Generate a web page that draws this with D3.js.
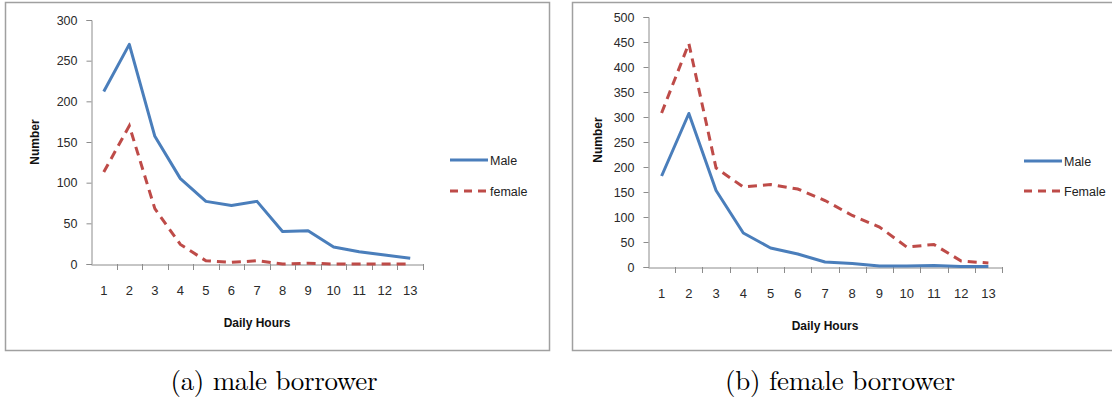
<!DOCTYPE html>
<html>
<head>
<meta charset="utf-8">
<script src="https://cdn.jsdelivr.net/npm/d3@7"></script>
<style>
  body { margin: 0; background: #fff; }
  svg { display: block; }
  .tick text { font-family: "Liberation Sans", Arial, sans-serif; font-size: 12.5px; fill: #2a2a2a; }
  .title { font-family: "Liberation Sans", Arial, sans-serif; font-size: 12px; font-weight: bold; fill: #111; }
  .legend { font-family: "Liberation Sans", Arial, sans-serif; font-size: 12.5px; fill: #222; }
  .caption { font-family: "Latin Modern Roman", "DejaVu Serif", serif; font-size: 27px; fill: #000; }
</style>
</head>
<body>
<svg id="canvas"></svg>
<script>
const width = 1112;
const height = 402;
let canvas = d3.select("#canvas").attr('width', width).attr('height', height);

const hours = ['1', '2', '3', '4', '5', '6', '7', '8', '9', '10', '11', '12', '13'];

// (a) male borrower
const maleA = [212, 270, 157, 105, 77, 72, 77, 40, 41, 21, 15, 11, 7];
const femaleA = [113, 170, 68, 24, 4, 2, 4, 0, 1, 0, 0, 0, 0];
const ticksA = [0, 50, 100, 150, 200, 250, 300];

// (b) female borrower
const maleB = [182, 307, 153, 68, 38, 26, 10, 7, 2, 2, 3, 1, 1];
const femaleB = [308, 447, 198, 160, 165, 156, 133, 103, 80, 40, 45, 12, 8];
const ticksB = [0, 50, 100, 150, 200, 250, 300, 350, 400, 450, 500];

const blue = '#4a7ebb';
const red = '#be4b48';
const axisGray = '#8c8c8c';

const drawPanel = (p) => {
    // frame
    canvas.append('rect')
        .attr('x', p.frame[0] + 0.5).attr('y', p.frame[1] + 0.5)
        .attr('width', p.frame[2]).attr('height', p.frame[3])
        .attr('fill', 'none').attr('stroke', '#a0a0a0').attr('stroke-width', 1.5);

    const x = d3.scaleBand().domain(hours).range([p.left, p.right]);
    const y = d3.scaleLinear().domain([0, d3.max(p.ticks)]).range([p.bottom, p.top]);

    const yAxis = canvas.append('g')
        .attr('transform', `translate(${p.left + 0.5},0)`)
        .call(d3.axisLeft(y).tickValues(p.ticks).tickSize(5).tickPadding(9));
    yAxis.select('.domain').attr('stroke', axisGray);
    yAxis.selectAll('.tick line').attr('stroke', axisGray);

    const xAxis = canvas.append('g')
        .attr('transform', `translate(0,${p.bottom + 0.5})`)
        .call(d3.axisBottom(x).tickSize(0).tickPadding(20));
    xAxis.select('.domain').attr('stroke', axisGray);
    xAxis.selectAll('.tick text').attr('dy', '0.32em').attr('y', 26).style('font-size', '13px');

    // ticks between categories
    const bounds = hours.map(h => x(h)).concat([p.right]).slice(1);
    canvas.append('g').selectAll('line')
        .data(bounds)
        .enter()
        .append('line')
        .attr('x1', d => Math.round(d) + 0.5).attr('x2', d => Math.round(d) + 0.5)
        .attr('y1', p.bottom).attr('y2', p.bottom + 6)
        .attr('stroke', axisGray);

    const line = d3.line()
        .x((d, i) => x(hours[i]) + x.bandwidth() / 2)
        .y(d => y(d));

    canvas.append('path')
        .attr('d', line(p.male))
        .attr('fill', 'none').attr('stroke', blue).attr('stroke-width', 3)
        .attr('stroke-linejoin', 'round');

    canvas.append('path')
        .attr('d', line(p.female))
        .attr('fill', 'none').attr('stroke', red).attr('stroke-width', 3)
        .attr('stroke-dasharray', '9,6');

    // axis titles
    canvas.append('text')
        .attr('class', 'title')
        .attr('x', (p.left + p.right) / 2).attr('y', p.bottom + 63)
        .attr('text-anchor', 'middle')
        .text('Daily Hours');

    canvas.append('text')
        .attr('class', 'title')
        .attr('transform', `translate(${p.numX},${p.numY}) rotate(-90)`)
        .attr('text-anchor', 'middle')
        .text('Number');

    // legend
    const legend = [
        { name: 'Male', color: blue, dash: null, y: p.legY[0] },
        { name: p.femaleName, color: red, dash: '8,6', y: p.legY[1] }
    ];
    legend.forEach(l => {
        canvas.append('line')
            .attr('x1', p.legX).attr('x2', p.legX + 38)
            .attr('y1', l.y).attr('y2', l.y)
            .attr('stroke', l.color).attr('stroke-width', 3)
            .attr('stroke-dasharray', l.dash);
        canvas.append('text')
            .attr('class', 'legend')
            .attr('x', p.legX + 40).attr('y', l.y + 4.5)
            .text(l.name);
    });

    canvas.append('text')
        .attr('class', 'caption')
        .attr('x', p.capX).attr('y', 390)
        .attr('text-anchor', 'middle')
        .attr('textLength', p.capW)
        .text(p.caption);
};

drawPanel({
    frame: [5, 2, 544, 348],
    left: 91, right: 423, top: 20, bottom: 264,
    ticks: ticksA, male: maleA, female: femaleA, femaleName: 'female',
    numX: 39, numY: 142,
    legX: 450, legY: [160, 191],
    capX: 274, capW: 207, caption: '(a) male borrower'
});

drawPanel({
    frame: [572, 2, 545, 348],
    left: 648, right: 1002, top: 17, bottom: 267,
    ticks: ticksB, male: maleB, female: femaleB, femaleName: 'Female',
    numX: 602, numY: 140,
    legX: 1024, legY: [161, 191],
    capX: 840, capW: 230, caption: '(b) female borrower'
});
</script>
</body>
</html>
